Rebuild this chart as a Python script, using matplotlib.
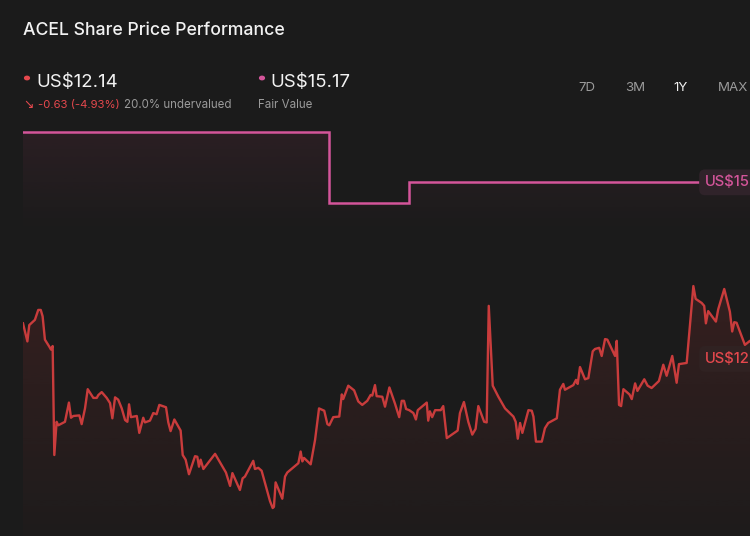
import numpy as np
import matplotlib
matplotlib.use("Agg")
import matplotlib.pyplot as plt
from matplotlib.patches import Polygon, Circle

plt.rcParams['font.family'] = ['Inter', 'DejaVu Sans']

# day offset in the 1Y window, share price (US$)
days = [0, 2.1, 3.0, 5.7, 7.3, 8.5, 9.4, 10.5, 12.6, 13.4, 14.2, 15.0, 16.1, 16.9, 20.1, 22.0, 23.0, 24.1,
        27.0, 28.1, 29.7, 31.0, 33.7, 35.3, 36.1, 37.7, 40.1, 41.7, 42.8, 44.1, 45.6, 47.3, 48.9, 50.0,
        50.8, 51.7, 54.5, 55.7, 57.6, 58.4, 60.8, 62.4, 64.0, 65.3, 68.5, 69.6, 70.7, 72.5, 75.5, 76.5,
        77.9, 79.5, 82.4, 83.5, 84.3, 85.1, 86.4, 92.0, 97.2, 99.2, 100.3, 103.9, 105.2, 106.3, 110.3,
        111.1, 112.7, 114.3, 118.3, 119.6, 120.2, 121.0, 124.2, 125.5, 126.6, 131.9, 133.0, 133.8, 134.6,
        137.8, 139.9, 141.8, 144.3, 145.8, 146.7, 148.6, 151.5, 152.7, 153.4, 155.8, 158.6, 160.6, 162.5,
        164.9, 166.5, 167.3, 168.6, 169.4, 172.1, 173.4, 175.5, 178.2, 180.2, 181.4, 182.5, 183.5, 185.0,
        187.0, 188.2, 189.1, 193.4, 194.1, 194.9, 196.0, 197.4, 200.1, 201.3, 203.0, 208.2, 209.3, 211.2,
        213.3, 215.2, 216.8, 218.1, 220.9, 222.1, 223.1, 225.0, 227.7, 230.9, 234.9, 236.0, 237.0, 238.1,
        239.2, 242.1, 243.7, 244.5, 245.7, 248.5, 250.0, 251.6, 255.7, 257.2, 258.8, 259.6, 263.6, 264.9,
        265.7, 266.8, 269.2, 270.8, 272.9, 274.0, 276.0, 277.2, 278.8, 279.9, 283.6, 284.4, 285.5, 286.5,
        287.6, 290.5, 291.6, 293.2, 294.3, 297.6, 299.2, 301.1, 304.6, 306.7, 308.3, 311.0, 313.1, 314.2,
        317.9, 321.1, 322.2, 325.1, 326.3, 327.1, 328.2, 331.9, 333.0, 335.9, 338.6, 339.7, 340.7, 341.8,
        345.8, 348.2, 353.0, 358.0, 362.0, 365.0]
price = [12.75, 12.44, 12.72, 12.81, 12.98, 12.98, 12.87, 12.47, 12.35, 12.30, 12.36, 10.49, 11.06, 11.00,
         11.06, 11.39, 11.13, 11.16, 11.17, 11.02, 11.29, 11.62, 11.47, 11.47, 11.52, 11.57, 11.47, 11.38,
         11.12, 11.48, 11.44, 11.29, 11.09, 11.06, 11.36, 11.14, 11.16, 10.87, 11.13, 11.05, 11.08, 11.21,
         11.19, 11.35, 11.31, 11.05, 10.90, 11.10, 10.91, 10.49, 10.41, 10.16, 10.47, 10.46, 10.29, 10.41,
         10.25, 10.51, 10.19, 9.96, 10.18, 9.89, 10.09, 10.12, 10.39, 10.25, 10.27, 10.22, 9.70, 9.58, 9.60,
         10.02, 9.74, 10.12, 10.19, 10.35, 10.55, 10.38, 10.44, 10.33, 10.75, 11.29, 11.25, 11.02, 11.00,
         11.14, 11.15, 11.53, 11.45, 11.68, 11.60, 11.41, 11.35, 11.42, 11.52, 11.51, 11.69, 11.50, 11.49,
         11.32, 11.65, 11.37, 11.14, 11.42, 11.42, 11.28, 11.26, 11.21, 11.10, 11.26, 11.39, 11.08, 11.24,
         11.14, 11.26, 11.26, 11.33, 10.78, 10.91, 11.21, 11.40, 11.06, 10.84, 10.94, 11.33, 11.06, 11.05,
         13.05, 11.68, 11.49, 11.29, 11.15, 11.06, 10.77, 11.04, 10.87, 11.26, 11.25, 11.15, 10.72, 10.72,
         10.95, 11.04, 11.12, 11.61, 11.71, 11.61, 11.69, 11.78, 11.71, 12.00, 11.79, 11.81, 12.27, 12.31,
         12.33, 12.19, 12.48, 12.47, 12.19, 12.45, 11.35, 11.33, 11.62, 11.53, 11.45, 11.72, 11.59, 11.79,
         11.68, 11.64, 11.76, 12.04, 11.85, 12.19, 11.73, 12.05, 12.07, 13.39, 13.17, 13.10, 13.05, 12.75,
         12.96, 12.78, 12.99, 13.34, 12.95, 12.61, 12.77, 12.76, 12.38, 12.45, 12.30, 12.55, 12.77, 12.14]

# fair value steps
fv_days = [0, 146.6, 146.6, 184.9, 184.9, 365]
fv_vals = [16.04, 16.04, 14.82, 14.82, 15.17, 15.17]

last_price = "US$12.14"
fair_value = "US$15.17"
change_txt = "-0.63 (-4.93%)"
under_txt = "20.0% undervalued"
periods = ["7D", "3M", "1Y", "MAX"]
period_x = [587, 635, 681, 733]

bg = '#1b1b1b'
red = '#c93c3c'
red_txt = '#e5484d'
pink = '#d4559a'

W, H = 750, 536
fig = plt.figure(figsize=(7.5, 5.36), dpi=100, facecolor=bg)

# chart runs on past the right edge of the picture
ax = fig.add_axes([23 / W, 0, (785 - 23) / W, (536 - 120) / H])
ax.set_facecolor(bg)
ax.set_xlim(0, 365)
ax.set_ylim(9.10, 16.24)
ax.axis("off")


def gradient_fill(x, y, color, a_top, a_bot, y_top, y_bot):
    poly = Polygon(np.column_stack([np.r_[x[0], x, x[-1]], np.r_[9.10, y, 9.10]]),
                   closed=True, facecolor='none', edgecolor='none')
    ax.add_patch(poly)
    img = np.zeros((256, 1, 4))
    img[:, 0, :3] = matplotlib.colors.to_rgb(color)
    img[:, 0, 3] = np.linspace(a_top, a_bot, 256)
    im = ax.imshow(img, aspect='auto', extent=[0, 365, y_bot, y_top], origin='upper', zorder=1)
    im.set_clip_path(poly)


gradient_fill(np.array(fv_days), np.array(fv_vals), '#b0406a', 0.11, 0.0, 16.04, 14.3)
gradient_fill(np.array(days), np.array(price), '#b03535', 0.18, 0.02, 13.39, 9.10)

ax.plot(fv_days, fv_vals, color=pink, lw=1.8, zorder=3, solid_joinstyle='miter')
ax.plot(days, price, color=red, lw=1.7, zorder=3)

# value tags at the right, cut by the picture edge like the original
ax.text(326.7, 15.17, fair_value, color=pink, fontsize=10.6, fontweight='medium', va='center', ha='left',
        zorder=5, bbox=dict(boxstyle='round,pad=0.4', fc='#30232a', ec='none'))
ax.text(326.7, 12.14, last_price, color=red_txt, fontsize=10.6, fontweight='medium', va='center', ha='left',
        zorder=5, bbox=dict(boxstyle='round,pad=0.4', fc='#302222', ec='none'))

# header
fig.text(23 / W, 1 - 35 / H, "ACEL Share Price Performance", color='#f2f2f2', fontsize=12.7,
         fontweight='medium')
fig.patches.append(Circle((27 / W, 1 - 78 / H), 2.4 / W, transform=fig.transFigure, color=red_txt))
fig.text(36 / W, 1 - 87 / H, last_price, color='#f2f2f2', fontsize=13.4)
fig.text(23 / W, 1 - 108 / H, "\u2198", color=red_txt, fontsize=9, family=['DejaVu Sans'])
fig.text(38 / W, 1 - 108 / H, change_txt, color=red_txt, fontsize=8.2)
fig.text(124 / W, 1 - 108 / H, under_txt, color='#9a9a9a', fontsize=8.3)
fig.patches.append(Circle((262 / W, 1 - 78 / H), 2.4 / W, transform=fig.transFigure, color=pink))
fig.text(270 / W, 1 - 87 / H, fair_value, color='#f2f2f2', fontsize=13.4)
fig.text(258 / W, 1 - 108 / H, "Fair Value", color='#9a9a9a', fontsize=8.3)

for p, px in zip(periods, period_x):
    fig.text(px / W, 1 - 88 / H, p, color='#f2f2f2' if p == "1Y" else '#9a9a9a',
             fontsize=9.6, ha='center', va='center')

fig.savefig("out.png", dpi=100, facecolor=bg)
